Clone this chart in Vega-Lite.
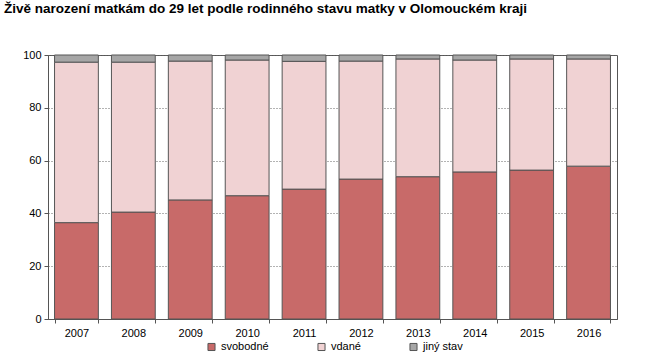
{
  "$schema": "https://vega.github.io/schema/vega-lite/v6.json",
  "autosize": "none",
  "width": 569,
  "height": 264,
  "padding": {"left": 48, "top": 55, "right": 34, "bottom": 44},
  "background": "white",
  "title": {
    "text": "Živě narození matkám do 29 let podle rodinného stavu matky v Olomouckém kraji",
    "anchor": "start",
    "frame": "group",
    "dx": -44,
    "offset": 34,
    "font": "Liberation Sans",
    "fontSize": 13.5,
    "fontWeight": "bold",
    "color": "#000000"
  },
  "config": {
    "font": "Liberation Sans",
    "view": {"stroke": "#555555", "strokeWidth": 1}
  },
  "data": {
    "values": [
      {"rok": "2007", "stav": "svobodné", "k": 1, "hodnota": 36.5},
      {"rok": "2007", "stav": "vdané", "k": 2, "hodnota": 60.8},
      {"rok": "2007", "stav": "jiný stav", "k": 3, "hodnota": 2.7},
      {"rok": "2008", "stav": "svobodné", "k": 1, "hodnota": 40.5},
      {"rok": "2008", "stav": "vdané", "k": 2, "hodnota": 56.8},
      {"rok": "2008", "stav": "jiný stav", "k": 3, "hodnota": 2.7},
      {"rok": "2009", "stav": "svobodné", "k": 1, "hodnota": 45.1},
      {"rok": "2009", "stav": "vdané", "k": 2, "hodnota": 52.6},
      {"rok": "2009", "stav": "jiný stav", "k": 3, "hodnota": 2.3},
      {"rok": "2010", "stav": "svobodné", "k": 1, "hodnota": 46.7},
      {"rok": "2010", "stav": "vdané", "k": 2, "hodnota": 51.4},
      {"rok": "2010", "stav": "jiný stav", "k": 3, "hodnota": 1.9},
      {"rok": "2011", "stav": "svobodné", "k": 1, "hodnota": 49.2},
      {"rok": "2011", "stav": "vdané", "k": 2, "hodnota": 48.4},
      {"rok": "2011", "stav": "jiný stav", "k": 3, "hodnota": 2.4},
      {"rok": "2012", "stav": "svobodné", "k": 1, "hodnota": 53.0},
      {"rok": "2012", "stav": "vdané", "k": 2, "hodnota": 44.7},
      {"rok": "2012", "stav": "jiný stav", "k": 3, "hodnota": 2.3},
      {"rok": "2013", "stav": "svobodné", "k": 1, "hodnota": 53.9},
      {"rok": "2013", "stav": "vdané", "k": 2, "hodnota": 44.6},
      {"rok": "2013", "stav": "jiný stav", "k": 3, "hodnota": 1.5},
      {"rok": "2014", "stav": "svobodné", "k": 1, "hodnota": 55.7},
      {"rok": "2014", "stav": "vdané", "k": 2, "hodnota": 42.4},
      {"rok": "2014", "stav": "jiný stav", "k": 3, "hodnota": 1.9},
      {"rok": "2015", "stav": "svobodné", "k": 1, "hodnota": 56.4},
      {"rok": "2015", "stav": "vdané", "k": 2, "hodnota": 42.1},
      {"rok": "2015", "stav": "jiný stav", "k": 3, "hodnota": 1.5},
      {"rok": "2016", "stav": "svobodné", "k": 1, "hodnota": 57.9},
      {"rok": "2016", "stav": "vdané", "k": 2, "hodnota": 40.6},
      {"rok": "2016", "stav": "jiný stav", "k": 3, "hodnota": 1.5}
    ]
  },
  "mark": {"type": "bar", "stroke": "#555555", "strokeWidth": 1},
  "encoding": {
    "x": {
      "field": "rok",
      "type": "ordinal",
      "title": null,
      "scale": {"paddingInner": 0.23, "paddingOuter": 0.115},
      "axis": {
        "labelAngle": 0,
        "labelFontSize": 11,
        "labelColor": "#000000",
        "labelPadding": 4,
        "tickBand": "extent",
        "tickColor": "#555555",
        "tickSize": 4,
        "domainColor": "#555555",
        "grid": false
      }
    },
    "y": {
      "field": "hodnota",
      "type": "quantitative",
      "stack": "zero",
      "title": null,
      "scale": {"domain": [0, 100], "nice": false},
      "axis": {
        "values": [0, 20, 40, 60, 80, 100],
        "labelFontSize": 11,
        "labelColor": "#000000",
        "labelPadding": 3,
        "tickColor": "#555555",
        "tickSize": 4,
        "domainColor": "#555555",
        "grid": true,
        "gridColor": "#666666",
        "gridDash": [1, 2],
        "gridWidth": 1
      }
    },
    "color": {
      "field": "stav",
      "type": "nominal",
      "sort": ["svobodné", "vdané", "jiný stav"],
      "scale": {
        "domain": ["svobodné", "vdané", "jiný stav"],
        "range": ["#C86A69", "#F0D2D3", "#A6A6A6"]
      },
      "legend": {
        "title": null,
        "orient": "none",
        "legendX": 158,
        "legendY": 286,
        "direction": "horizontal",
        "symbolType": "square",
        "symbolSize": 50,
        "symbolStrokeColor": "#555555",
        "symbolStrokeWidth": 1,
        "labelFontSize": 11,
        "labelColor": "#000000",
        "columnPadding": 46
      }
    },
    "order": {"field": "k", "type": "quantitative", "sort": "ascending"}
  }
}
